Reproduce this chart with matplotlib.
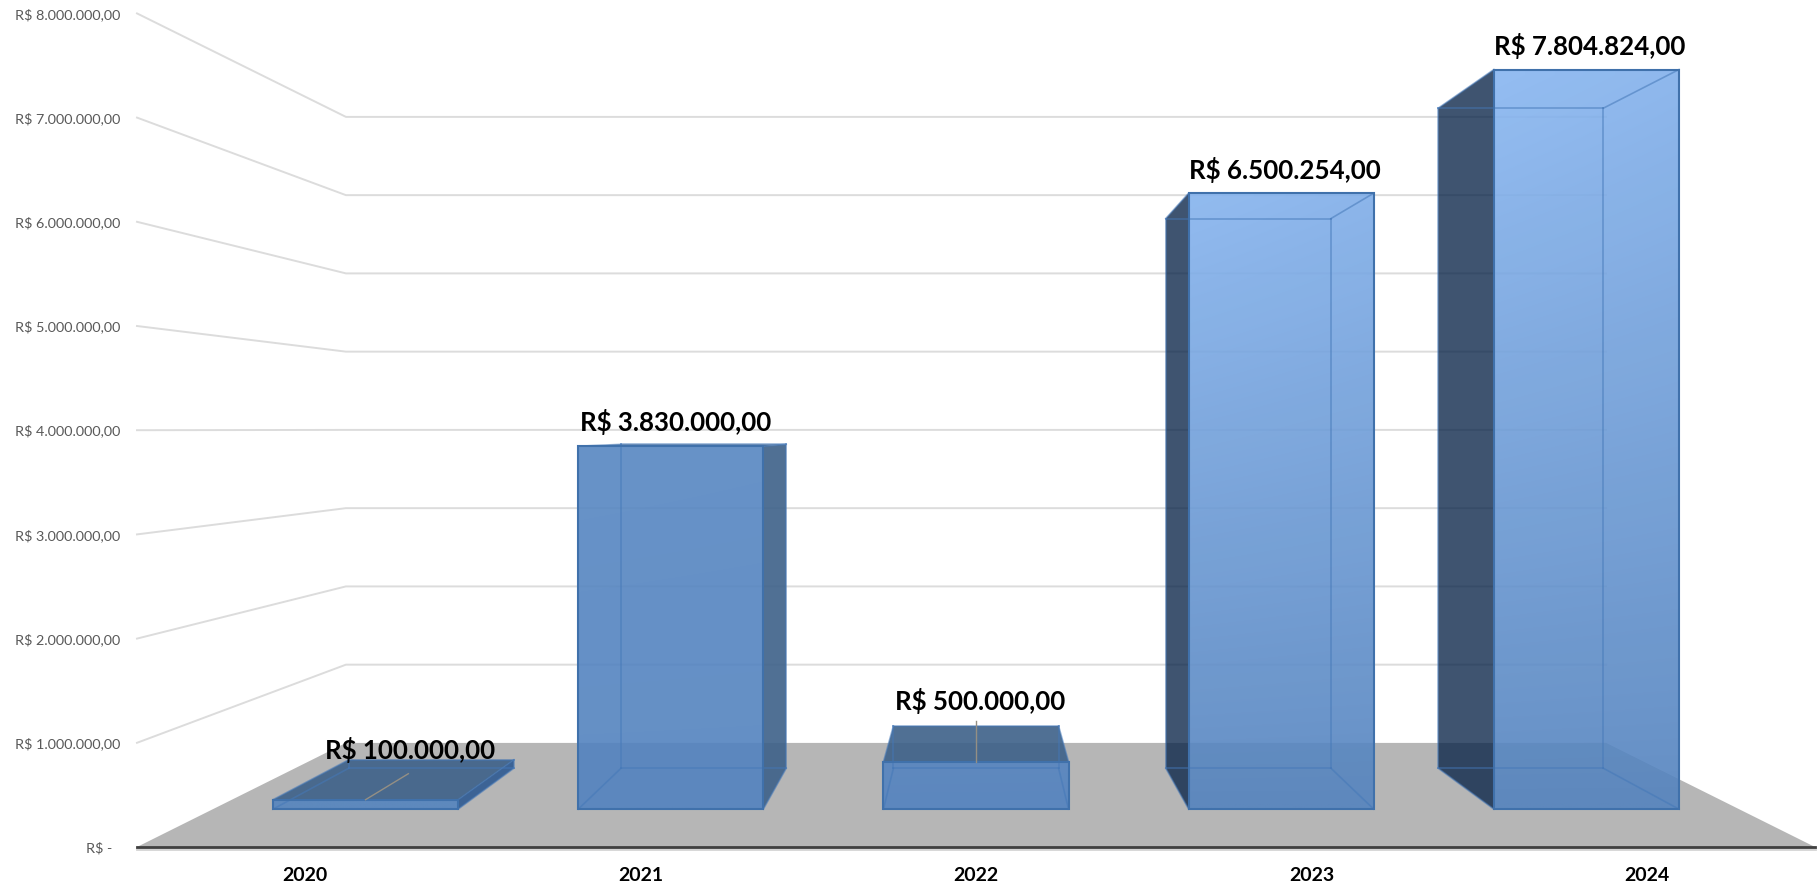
import matplotlib
matplotlib.use("Agg")
import matplotlib.pyplot as plt
from matplotlib.colors import to_rgb
from matplotlib.patches import Polygon
import numpy as np

# data
years = ["2020", "2021", "2022", "2023", "2024"]
values = [100000, 3830000, 500000, 6500254, 7804824]
bar_labels = ["R$ 100.000,00", "R$ 3.830.000,00", "R$ 500.000,00", "R$ 6.500.254,00", "R$ 7.804.824,00"]
axis_values = [0, 1000000, 2000000, 3000000, 4000000, 5000000, 6000000, 7000000, 8000000]
axis_labels = ["R$ -", "R$ 1.000.000,00", "R$ 2.000.000,00", "R$ 3.000.000,00", "R$ 4.000.000,00",
               "R$ 5.000.000,00", "R$ 6.000.000,00", "R$ 7.000.000,00", "R$ 8.000.000,00"]

# look of the bars
top_colors = ["#5484BE", "#5787C2", "#5584C0", "#85B3EE", "#88B6F1"]
bottom_colors = ["#5484BE", "#5282BF", "#5282BF", "#5483BE", "#5483BE"]
label_shift = [(45, -10), (5, -24), (4, -25), (4, -23), (3, -24)]
leader_depth = [0.55, None, 0.76, None, None]

# perspective of the chart, in pixels
left, right = 137.0, 1815.0
floor_y = 847.0
unit = 104.2 / 1e6
eye_x, eye_y = 976.0, 429.0
k = 0.3316
bar_share = 0.6065
d_front, d_back = 0.3, 0.7


def project(u, v, d):
    # u across the chart 0-1, v money, d depth 0-1
    s = 1 / (1 + k * d)
    x = eye_x + (left + u * (right - left) - eye_x) * s
    y = eye_y + (floor_y - eye_y) * s - v * unit * s
    return x, y


plt.rcParams['font.family'] = ['Lato', 'DejaVu Sans']
fig = plt.figure(figsize=(18.18, 8.88), dpi=100)
ax = fig.add_axes([0, 0, 1, 1])

# floor
floor = [project(0, 0, 0), project(1, 0, 0), project(1, 0, 1), project(0, 0, 1)]
ax.add_patch(Polygon(floor, closed=True, facecolor="#B6B6B6", edgecolor="none", zorder=1))

# grid on the walls
for v in axis_values[1:]:
    xs, ys = zip(project(0, v, 0), project(0, v, 1), project(1, v, 1))
    ax.plot(xs, ys, color="#DCDCDC", lw=1.4, zorder=2)
ax.plot([left, right], [floor_y + 1.5, floor_y + 1.5], color="#D4D4D4", lw=2, zorder=2)
ax.plot([left, right], [floor_y, floor_y], color="#404040", lw=2, zorder=3)

for v, lab in zip(axis_values, axis_labels):
    x = project(0, v, 0)[0] - 17
    if v == 0:
        x = x - 8
    ax.text(x, project(0, v, 0)[1] + 1, lab, ha="right", va="center", fontsize=10.4, color="#595959")

# bars
for i, val in enumerate(values):
    u = (i + 0.5) / len(values)
    w = bar_share / len(values) / 2
    fbl = project(u - w, 0, d_front)
    fbr = project(u + w, 0, d_front)
    ftl = project(u - w, val, d_front)
    ftr = project(u + w, val, d_front)
    bbl = project(u - w, 0, d_back)
    bbr = project(u + w, 0, d_back)
    btl = project(u - w, val, d_back)
    btr = project(u + w, val, d_back)

    # side seen from outside, dark
    if u > 0.5:
        ax.add_patch(Polygon([fbl, ftl, btl, bbl], facecolor="#092448", alpha=0.78, edgecolor="none", zorder=4))
    elif u < 0.5:
        c = "#3D6189" if i == 1 else "#2F5A92"
        ax.add_patch(Polygon([fbr, ftr, btr, bbr], facecolor=c, alpha=0.9, edgecolor="none", zorder=4))
    if ftl[1] > eye_y + 5:
        ax.add_patch(Polygon([ftl, ftr, btr, btl], facecolor="#3D6189", alpha=0.9, edgecolor="none", zorder=4))

    # front with gradient
    n = 64
    t = np.linspace(0, 1, n)
    top = np.array(to_rgb(top_colors[i]))
    bot = np.array(to_rgb(bottom_colors[i]))
    grad = np.zeros((n, n, 4))
    for a in range(n):
        for b in range(n):
            mix = min(1, t[a] + 0.12 * t[b] * (1 - t[a]))
            grad[a, b, :3] = top * (1 - mix) + bot * mix
    grad[:, :, 3] = 0.9
    im = ax.imshow(grad, extent=(fbl[0], fbr[0], fbl[1], ftl[1]), origin="upper", aspect="auto",
                   interpolation="bilinear", zorder=5)
    clip = Polygon([fbl, fbr, ftr, ftl], transform=ax.transData)
    im.set_clip_path(clip)

    # see-through edges
    inner = [(bbl, bbr), (bbr, btr), (btr, btl), (btl, bbl), (fbl, bbl), (fbr, bbr), (ftl, btl), (ftr, btr)]
    for p, q in inner:
        ax.plot([p[0], q[0]], [p[1], q[1]], color="#4478B8", alpha=0.55, lw=1.2, zorder=6)
    ax.add_patch(Polygon([fbl, fbr, ftr, ftl], facecolor="none", edgecolor="#4071AB", lw=1.5, zorder=7))

    # leader lines
    if leader_depth[i] is not None:
        p = project(u, val, d_front)
        q = project(u, val, leader_depth[i])
        ax.plot([p[0], q[0]], [p[1], q[1]], color="#948F84", lw=1, zorder=8)

    # value label
    if val < 1000000:
        base = (project(u, val, d_front)[0], btl[1])
    else:
        base = project(u, val, d_front)
    ax.text(base[0] + label_shift[i][0], base[1] + label_shift[i][1], bar_labels[i], ha="center", va="center",
            fontsize=18.6, fontweight="bold", color="black", zorder=9)

    # year
    ax.text(project(u, 0, 0)[0], 875, years[i], ha="center", va="center", fontsize=14, fontweight="bold", color="black")

ax.set_xlim(0, 1818)
ax.set_ylim(888, 0)
ax.axis("off")
fig.savefig("out.png", dpi=100)
